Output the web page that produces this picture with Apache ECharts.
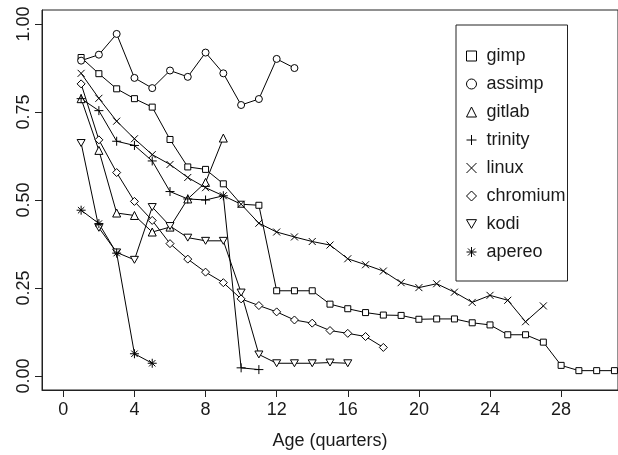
<!DOCTYPE html>
<html>
<head>
<meta charset="utf-8">
<script src="https://cdn.jsdelivr.net/npm/echarts@6/dist/echarts.min.js"></script>
<style>
html,body{margin:0;padding:0;background:#fff;}
#chart{width:618px;height:455px;}
</style>
</head>
<body>
<div id="chart"></div>
<script>
const ages = [1,2,3,4,5,6,7,8,9,10,11,12,13,14,15,16,17,18,19,20,21,22,23,24,25,26,27,28,29,30,31];
const gimp = [0.905,0.859,0.816,0.788,0.764,0.672,0.594,0.587,0.546,0.488,0.485,0.242,0.242,0.242,0.204,0.191,0.180,0.173,0.172,0.161,0.162,0.162,0.151,0.145,0.117,0.117,0.096,0.030,0.015,0.015,0.015];
const assimp = [0.896,0.913,0.972,0.847,0.818,0.868,0.850,0.919,0.860,0.770,0.787,0.901,0.875];
const gitlab = [0.788,0.641,0.463,0.456,0.409,0.423,0.503,0.550,0.676];
const trinity = [0.788,0.754,0.667,0.655,0.611,0.524,0.503,0.500,0.512,0.023,0.018];
const linux = [0.860,0.789,0.724,0.674,0.629,0.601,0.564,0.535,0.512,0.488,0.434,0.409,0.395,0.382,0.372,0.333,0.316,0.298,0.265,0.251,0.262,0.238,0.209,0.229,0.215,0.154,0.199];
const chromium = [0.830,0.671,0.578,0.496,0.442,0.376,0.332,0.295,0.265,0.219,0.200,0.182,0.159,0.150,0.129,0.121,0.112,0.081];
const kodi = [0.662,0.421,0.351,0.330,0.480,0.426,0.393,0.384,0.384,0.237,0.061,0.036,0.036,0.036,0.038,0.036];
const apereo = [0.471,0.433,0.349,0.063,0.036];
const xTicks = [0,4,8,12,16,20,24,28];
const yTicks = [0,0.25,0.5,0.75,1];

const SYM = {
  gimp: 'rect',
  assimp: 'circle',
  gitlab: 'triangle',
  trinity: 'path://M5,0 L5,10 M0,5 L10,5',
  linux: 'path://M0,0 L10,10 M0,10 L10,0',
  chromium: 'path://M5,0 L10,5 L5,10 L0,5 Z',
  kodi: 'path://M0,0 L10,0 L5,8.66 Z',
  apereo: 'path://M5,0 L5,10 M0,5 L10,5 M1.46,1.46 L8.54,8.54 M1.46,8.54 L8.54,1.46'
};
const SIZE = {gimp:6, assimp:7, gitlab:8, trinity:9, linux:7, chromium:8, kodi:8, apereo:9};

const seriesList = [
  ['gimp', gimp], ['assimp', assimp], ['gitlab', gitlab], ['trinity', trinity],
  ['linux', linux], ['chromium', chromium], ['kodi', kodi], ['apereo', apereo]
];

const FONT = 'Liberation Sans';
const TXT = '#1a1a1a';

const chart = echarts.init(document.getElementById('chart'), null, {renderer:'canvas'});
chart.setOption({
  animation: false,
  backgroundColor: '#fff',
  grid: {left: 42, right: -2, top: 10, bottom: 61, show: true, borderColor: '#222', borderWidth: 1, backgroundColor: 'transparent'},
  xAxis: {
    type: 'value', min: -1.2, max: 31.2,
    name: 'Age (quarters)', nameLocation: 'middle', nameGap: 42,
    nameTextStyle: {fontFamily: FONT, fontSize: 18, color: TXT},
    axisLine: {show: true, onZero: false, lineStyle: {color: '#222'}},
    axisTick: {show: true, length: 7, lineStyle: {color: '#222'}, customValues: xTicks},
    axisLabel: {fontFamily: FONT, fontSize: 18, color: TXT, margin: 11, customValues: xTicks},
    splitLine: {show: false}
  },
  yAxis: {
    type: 'value', min: -0.04, max: 1.04,
    axisLine: {show: true, onZero: false, lineStyle: {color: '#222'}},
    axisTick: {show: true, length: 7, lineStyle: {color: '#222'}, customValues: yTicks},
    axisLabel: {fontFamily: FONT, fontSize: 18, color: TXT, margin: 9, rotate: 90,
      customValues: yTicks, formatter: v => v.toFixed(2)},
    splitLine: {show: false}
  },
  legend: {
    orient: 'vertical', left: 456, top: 25,
    padding: [22, 2, 20, 10],
    itemWidth: 10, itemHeight: 10, itemGap: 10,
    borderColor: '#222', borderWidth: 1, backgroundColor: '#fff',
    itemStyle: {color: '#fff', borderColor: '#000', borderWidth: 1},
    textStyle: {fontFamily: FONT, fontSize: 18, color: TXT, padding: [0, 0, 0, 5]},
    data: seriesList.map(([n]) => ({name: n, icon: SYM[n]}))
  },
  series: seriesList.map(([n, vals]) => ({
    name: n, type: 'line',
    data: vals.map((v, i) => [ages[i], v]),
    symbol: SYM[n], symbolSize: SIZE[n], symbolKeepAspect: true,
    showAllSymbol: true,
    lineStyle: {color: '#000', width: 1},
    itemStyle: {color: '#fff', borderColor: '#000', borderWidth: 1},
    emphasis: {disabled: true}
  }))
});
</script>
</body>
</html>
